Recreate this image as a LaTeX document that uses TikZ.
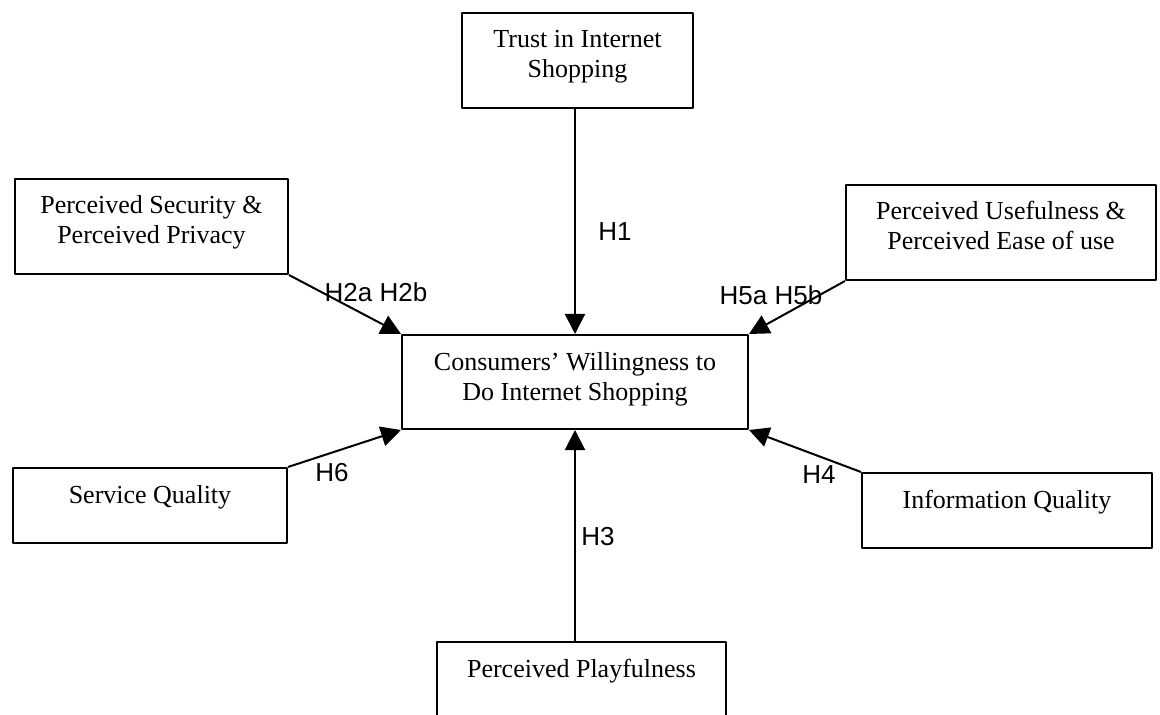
\documentclass[tikz,border=0pt]{standalone}
\usepackage{fontspec}
\setmainfont{Liberation Serif}
\newfontfamily\hypfont{Liberation Sans}
\usetikzlibrary{arrows.meta}
\newcommand{\boxtxt}[3]{\parbox[c][#2][t]{#1}{\centering\rule{0pt}{17.5pt}#3}}
\begin{document}
\begin{tikzpicture}[x=0.5pt, y=-0.5pt, font=\fontsize{13}{15}\selectfont, line join=round, >={Triangle[length=10pt,width=10pt]},
	factor/.style={draw, line width=1pt, inner sep=0pt},
	hyp/.style={font=\hypfont\fontsize{13}{15}\selectfont, inner sep=0pt},
	link/.style={->, line width=1pt}]
	\useasboundingbox (0,0) rectangle (1160,715);
	% factors
	\node[factor] (cwi) at (575,382) {\boxtxt{173pt}{47pt}{Consumers’ Willingness to\\Do Internet Shopping}};
	\node[factor] (trust) at (577.5,60.5) {\boxtxt{115.5pt}{47.5pt}{Trust in Internet\\Shopping}};
	\node[factor] (sec) at (151.5,226.5) {\boxtxt{136.5pt}{47.5pt}{Perceived Security \&\\Perceived Privacy}};
	\node[factor] (use) at (1001,232.5) {\boxtxt{155pt}{47.5pt}{Perceived Usefulness \&\\Perceived Ease of use}};
	\node[factor] (serv) at (150,505.5) {\boxtxt{137pt}{37.5pt}{Service Quality}};
	\node[factor] (info) at (1007,510.5) {\boxtxt{145pt}{37.5pt}{Information Quality}};
	\node[factor] (play) at (581.5,681) {\boxtxt{144.5pt}{39pt}{Perceived Playfulness}};
	% hypotheses
	\draw[link] (trust.south -| cwi.north) -- (cwi.north);
	\draw[link] (play.north -| cwi.south) -- (cwi.south);
	\foreach \a/\b in {sec.south east/cwi.north west, use.south west/cwi.north east,
		serv.north east/cwi.south west, info.north west/cwi.south east}
	\draw[link] (\a) -- (\b);
	\node[hyp] (h1) at (615,232) {H1};
	\node[hyp] (h2) at (376,292) {H2a H2b};
	\node[hyp] (h3) at (598,537) {H3};
	\node[hyp] (h4) at (819,475) {H4};
	\node[hyp] (h5) at (771,295) {H5a H5b};
	\node[hyp] (h6) at (332,473) {H6};
\end{tikzpicture}
\end{document}
